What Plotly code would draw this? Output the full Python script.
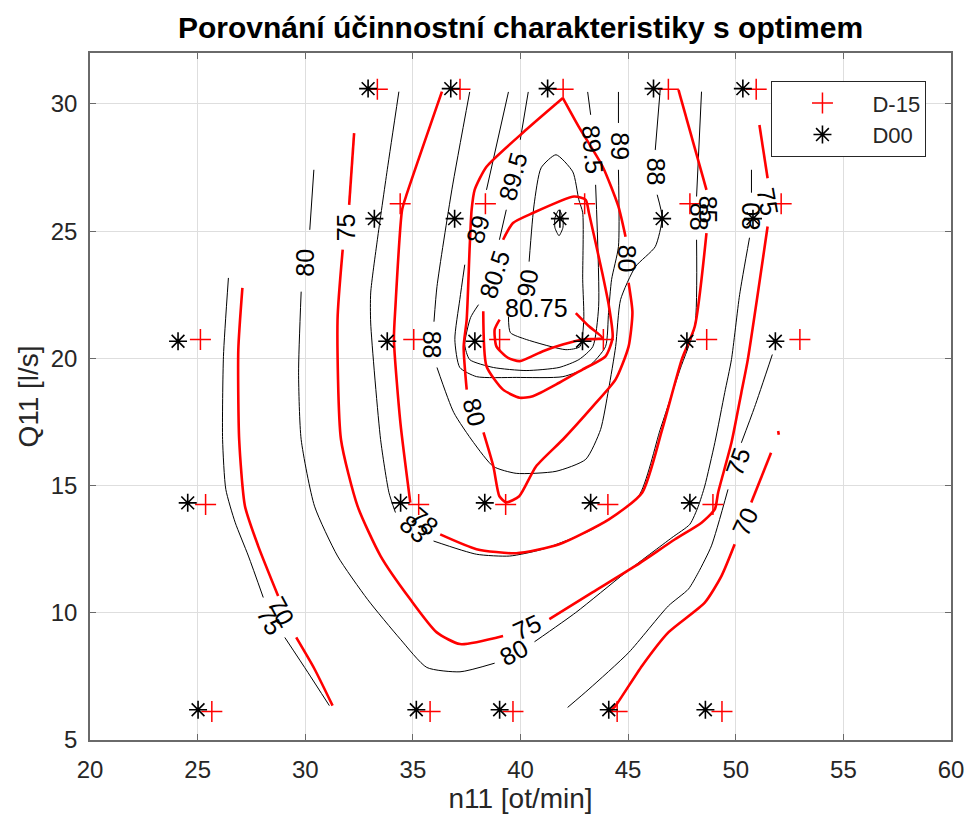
import plotly.graph_objects as go

# ---------------- measured points ----------------
n11_D15 = [33.35, 37.19, 41.98, 46.87, 50.95,
           34.41, 38.37, 42.98, 47.87, 52.11,
           25.13, 35.04, 39.03, 43.85, 48.65, 52.98,
           25.37, 35.27, 39.31, 44.06, 48.94,
           25.66, 35.80, 39.65, 44.49, 49.36]
Q11_D15 = [30.58] * 5 + [26.08] * 5 + [20.74] * 6 + [14.26] * 5 + [6.12] * 5

n11_D00 = [32.92, 36.76, 41.26, 46.18, 50.33,
           33.21, 36.94, 41.83, 46.58, 50.80,
           24.09, 33.81, 37.88, 42.88, 47.73, 51.84,
           24.54, 34.43, 38.34, 43.26, 47.87,
           25.02, 35.16, 39.03, 44.10, 48.59]
Q11_D00 = [30.60] * 5 + [25.49] * 5 + [20.67] * 6 + [14.32] * 5 + [6.19] * 5

# ---------------- contour lines (n11, Q11); None = gap for inline label ----------------
# D00 (black)
black_75_left = [(26.43, 23.16), (26.20, 20.08), (26.16, 16.81), (26.31, 14.85), (26.74, 13.56),
                 (27.36, 12.23), (28.05, 10.60), None, (29.05, 9.03), (30.12, 7.66), (31.12, 6.35)]
black_75_right = [(51.70, 20.15), (50.87, 18.07), (50.26, 16.68), None, (49.64, 14.85), (48.87, 12.63),
                  (48.26, 11.58), (47.80, 10.93), (46.87, 10.27), (45.03, 8.44), (43.18, 7.00), (42.19, 6.28)]
black_80 = [(30.40, 27.41), (30.21, 25.05), None, (29.81, 22.62), (29.69, 19.43), (29.81, 16.81),
            (30.43, 14.19), (31.50, 12.23), (32.89, 10.53), (34.42, 8.96), (35.65, 7.85), (37.19, 7.68),
            (38.80, 8.02), None, (40.65, 8.86), (42.57, 10.01), (44.88, 11.58), (47.03, 12.95),
            (47.87, 13.48), (48.26, 14.19), (48.56, 14.98), (49.03, 16.69), (49.49, 18.66),
            (49.80, 19.95), (50.18, 22.50), (50.64, 24.74), None, (50.73, 26.51), (50.73, 27.41)]
black_83 = [(34.35, 30.48), (33.81, 27.41), (33.35, 24.66), (33.04, 22.57), (33.04, 21.39),
            (33.50, 16.81), (33.89, 14.72), (34.19, 13.94), None, (35.96, 12.82), (37.96, 12.30),
            (39.50, 12.23), (41.04, 12.50), (43.34, 13.28), (45.49, 14.59), (46.49, 17.20),
            (47.41, 19.56), (48.10, 21.26), (48.18, 24.66), None, (48.18, 26.36), (48.41, 30.48)]
black_88 = [(37.64, 30.47), (36.81, 26.62), (36.12, 22.82), (35.98, 21.44), None, (36.12, 19.64),
            (36.90, 17.87), (37.82, 16.69), (38.74, 15.75), (39.80, 15.48), (41.65, 15.56),
            (43.03, 16.03), (43.72, 17.20), (44.09, 18.77), (44.42, 20.46), (44.65, 22.31),
            (45.34, 23.60), (46.26, 24.39), (46.58, 25.52), (46.35, 26.43), None, (46.26, 28.19),
            (46.49, 30.55)]
black_89 = [(39.44, 30.47), (38.42, 26.62), None, (37.41, 23.68), (37.18, 22.31), (36.95, 20.74),
            (37.18, 19.64), (37.96, 19.28), (39.80, 19.25), (41.97, 19.28), (43.17, 19.68),
            (43.95, 20.46), (44.09, 21.80), (44.23, 23.09), (44.55, 24.39), (44.55, 27.41), None,
            (44.55, 29.25), (44.55, 30.47)]
black_895 = [(40.36, 30.47), (39.99, 28.59), None, (39.34, 25.84), (39.02, 24.66), None,
             (38.05, 22.11), (37.68, 21.60), (37.41, 20.54), (37.64, 19.95), (38.74, 19.64),
             (40.26, 19.52), (41.79, 19.64), (42.71, 19.95), (43.36, 20.46), (43.63, 22.03),
             (43.49, 26.82), None, (43.26, 29.57), (43.12, 30.47)]
black_90 = [(40.40, 23.80), (40.63, 26.03), (40.96, 27.49), (41.65, 28.00), (42.43, 27.33),
            (42.71, 26.23), (42.89, 25.72), (42.89, 23.09), (42.94, 21.52), (42.76, 20.46),
            (42.11, 20.34), (40.27, 20.74), (39.53, 21.01), (39.44, 21.64)]
black_peak = [(41.79, 25.84), (41.97, 25.52), (41.97, 25.13), (41.79, 24.82), (41.60, 25.13),
              (41.60, 25.52), (41.79, 25.84)]

# D-15 (red)
red_70_left = [(27.08, 22.77), (26.89, 20.34), (26.93, 16.81), (27.20, 14.19), (27.81, 12.63),
               (28.74, 10.66), None, (29.58, 9.03), (30.43, 7.79), (31.27, 6.35)]
red_70_right = [(51.97, 17.14), (52.00, 17.00), None, (51.64, 16.29), (50.72, 14.33), None,
                (49.95, 12.69), (49.34, 11.45), (48.56, 10.40), (46.87, 9.23), (45.65, 7.92),
                (44.42, 6.35), (44.14, 6.10)]
red_75 = [(32.27, 28.85), (32.04, 26.03), None, (31.74, 24.27), (31.50, 21.52), (31.66, 16.81),
          (32.43, 14.19), (33.50, 12.23), (34.88, 10.53), (36.11, 9.23), (37.19, 8.77), (39.19, 9.09),
          None, (41.34, 9.75), (43.34, 10.80), (45.34, 11.84), (47.18, 12.89), (48.41, 13.54),
          (49.03, 14.07), (49.18, 14.72), (49.80, 16.68), (50.26, 18.65), (50.56, 19.95),
          (51.48, 25.18), None, (51.48, 27.08), (51.10, 29.17)]
red_78 = [(36.35, 30.48), (34.73, 26.49), (34.50, 25.84), (34.19, 22.04), (34.12, 20.74),
          (34.42, 17.47), (34.88, 14.33), None, (36.27, 13.08), (37.96, 12.50), (39.80, 12.34),
          (41.80, 12.69), (44.11, 13.67), (45.65, 14.72), (46.58, 17.20), (47.49, 19.95),
          (48.10, 21.26), (48.64, 24.92), None, (48.64, 26.62), (47.34, 30.55)]
red_80 = [(41.97, 30.23), (40.26, 28.98), (38.42, 27.53), (37.87, 26.62), (37.73, 25.84),
          (37.64, 24.39), (37.50, 21.52), (37.36, 20.46), (37.50, 18.77), None, (38.28, 17.09),
          (38.74, 15.75), (39.02, 14.58), (39.34, 14.34), (39.94, 14.58), (40.72, 15.75),
          (41.97, 16.81), (43.36, 18.11), (44.42, 19.17), (45.02, 20.46), (45.20, 21.80),
          (45.02, 22.97), None, (44.88, 24.78), (44.55, 25.96), (43.82, 27.53), (42.71, 29.10),
          (41.97, 30.23)]
red_805 = [(39.19, 24.66), (39.65, 25.32), (40.57, 25.71), (42.49, 26.36), (43.03, 26.23),
           (43.18, 25.71), (43.80, 23.35), (44.11, 22.04), (44.28, 20.82), (43.95, 20.08),
           (42.88, 19.56), (41.80, 19.04), (40.57, 18.51), (39.96, 18.45), (39.19, 18.77),
           (38.42, 19.69), (38.27, 21.85)]
red_8075 = [(39.03, 21.52), (38.80, 21.13), (38.88, 20.47), (39.42, 20.02), (39.96, 19.89),
            (41.04, 20.28), (41.96, 20.54), (42.88, 20.74), (43.80, 20.80), (43.18, 21.26),
            (42.57, 21.78)]

black_lines = [black_75_left, black_75_right, black_80, black_83, black_88, black_89,
               black_895, black_90, black_peak]
red_lines = [red_70_left, red_70_right, red_75, red_78, red_80, red_805, red_8075]

# inline contour labels
label_text = ["75", "70", "80", "75", "80", "75", "80", "75", "75", "70", "83", "78",
              "88", "85", "88", "88", "89", "89", "89.5", "89.5", "80.5", "90", "80.75",
              "80", "80"]
label_n11 = [28.37, 28.88, 29.98, 31.87, 39.72, 40.30, 50.68, 51.50, 50.12, 50.45, 35.07, 35.52,
             48.27, 48.70, 35.93, 46.30, 38.00, 44.65, 39.65, 43.36, 38.77, 40.31, 40.73,
             37.87, 44.92]
label_Q11 = [9.67, 10.06, 23.75, 25.13, 8.45, 9.45, 25.60, 26.15, 15.95, 13.60, 13.28, 13.59,
             25.58, 25.85, 20.54, 27.33, 25.10, 28.35, 27.17, 28.19, 23.29, 22.97, 21.99,
             17.90, 23.90]
label_angle = [62, 62, -90, -90, -28, -25, -90, 80, -70, -65, 40, 40,
               90, 90, 90, 90, -75, 90, -75, 85, -72, -80, 0, 75, 90]


def xy(points):
    xs = [p[0] if p is not None else None for p in points]
    ys = [p[1] if p is not None else None for p in points]
    return xs, ys


FONT = "Liberation Sans, Arial, Helvetica, sans-serif"
fig = go.Figure()

for pts in black_lines:
    xs, ys = xy(pts)
    fig.add_trace(go.Scatter(x=xs, y=ys, mode="lines",
                             line=dict(color="black", width=1, shape="spline", smoothing=0.6),
                             showlegend=False, hoverinfo="skip", connectgaps=False))
for pts in red_lines:
    xs, ys = xy(pts)
    fig.add_trace(go.Scatter(x=xs, y=ys, mode="lines",
                             line=dict(color="red", width=2.6, shape="spline", smoothing=0.6),
                             showlegend=False, hoverinfo="skip", connectgaps=False))

fig.add_trace(go.Scatter(x=n11_D15, y=Q11_D15, mode="markers", name="D-15",
                         marker=dict(symbol="cross-thin", size=15, color="red",
                                     line=dict(color="red", width=1.5))))
fig.add_trace(go.Scatter(x=n11_D00, y=Q11_D00, mode="markers", name="D00",
                         marker=dict(symbol="asterisk", size=15, color="black",
                                     line=dict(color="black", width=1.6))))

for t, x, y, a in zip(label_text, label_n11, label_Q11, label_angle):
    fig.add_annotation(x=x, y=y, text=t, showarrow=False, textangle=a,
                       font=dict(family=FONT, size=25, color="black"))

axis_common = dict(showgrid=True, gridcolor="#dedede", gridwidth=1, zeroline=False,
                   showline=True, linecolor="#6a6a6a", linewidth=1.5, mirror="ticks",
                   ticks="inside", ticklen=6, tickcolor="#6a6a6a", tickwidth=1.2,
                   tickfont=dict(family=FONT, size=24, color="#262626"))

fig.update_layout(
    width=976, height=818,
    margin=dict(l=90, r=18, t=53, b=77),
    paper_bgcolor="white", plot_bgcolor="white",
    title=dict(text="<b>Porovnání účinnostní charakteristiky s optimem</b>",
               x=0.5, xref="paper", xanchor="center", y=0.966, yanchor="middle",
               font=dict(family=FONT, size=30, color="black")),
    xaxis=dict(range=[20, 60], tickvals=[20, 25, 30, 35, 40, 45, 50, 55, 60],
               title=dict(text="n11 [ot/min]", font=dict(family=FONT, size=28, color="#262626"),
                          standoff=4),
               ticklabelstandoff=7, **axis_common),
    yaxis=dict(range=[5, 32], tickvals=[5, 10, 15, 20, 25, 30],
               title=dict(text="Q11 [l/s]", font=dict(family=FONT, size=28, color="#262626"),
                          standoff=4),
               ticklabelstandoff=6, **axis_common),
    legend=dict(x=0.9715, xanchor="right", y=0.959, yanchor="top", bgcolor="white",
                bordercolor="#262626", borderwidth=1, itemwidth=90, tracegroupgap=0,
                font=dict(family=FONT, size=22, color="#262626")),
)

fig.write_html("out.html")
